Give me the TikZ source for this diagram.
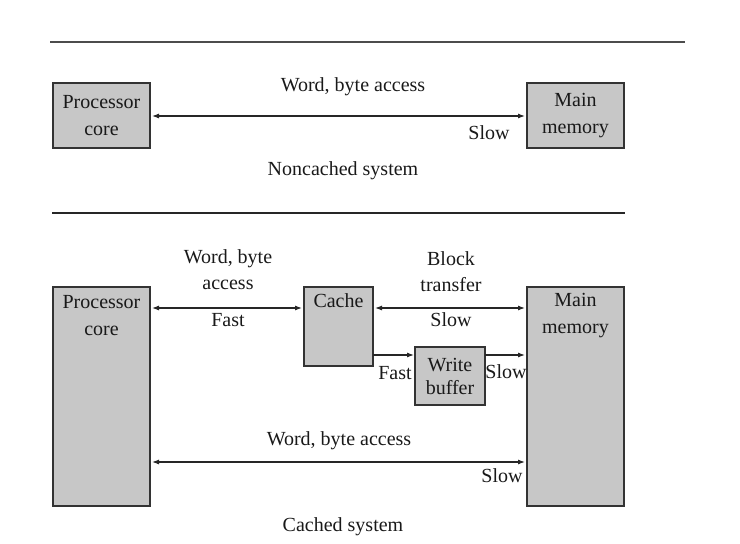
\documentclass[tikz,border=0pt]{standalone}
\usepackage{fontspec}
\setmainfont{Liberation Serif}
\usetikzlibrary{arrows.meta}
\begin{document}
\begin{tikzpicture}[x=1pt,y=-1pt,
  box/.style={draw=black!80,line width=1.3pt,fill=black!22},
  lbl/.style={inner sep=0pt,font=\fontsize{20}{22}\selectfont,text=black!90},
  conn/.style={line width=1.1pt,draw=black!85,{Latex[length=7pt,width=5pt]}-{Latex[length=7pt,width=5pt]}},
  oneway/.style={line width=1.1pt,draw=black!85,-{Latex[length=7pt,width=5pt]}}]
\useasboundingbox (0,0) rectangle (740,544);
% separator lines
\draw[line width=1.6pt,black!70] (50,42) -- (685,42);
\draw[line width=2.8pt,black!85] (52,213) -- (625,213);
% noncached system
\draw[box] (53,83) rectangle (150,148);
\draw[box] (527,83) rectangle (624,148);
\node[lbl,align=center] (p1) at (101.5,115.5) {Processor\\[5pt]core};
\node[lbl,align=center] (m1) at (575.5,115.5) {Main\\[5pt]memory};
\coordinate (p1e) at (152,116);
\coordinate (m1w) at (525,116);
\draw[conn] (p1e) -- (m1w);
\node[lbl] (t1) at (353,87) {Word, byte access};
\node[lbl] (t2) at (489,133) {Slow};
\node[lbl] (t3) at (343,171) {Noncached system};
% cached system
\draw[box] (53,287) rectangle (150,506);
\draw[box] (527,287) rectangle (624,506);
\draw[box] (304,287) rectangle (373,366);
\draw[box] (415,347) rectangle (485,405);
\node[lbl,align=center] (p2) at (101.5,316) {Processor\\[5pt]core};
\node[lbl,align=center] (m2) at (575.5,316) {Main\\[5pt]memory};
\node[lbl] (c) at (338.5,301) {Cache};
\node[lbl,align=center] (wb) at (450,376) {Write\\[1pt]buffer};
\coordinate (p2a) at (152,308);
\coordinate (ca) at (302,308);
\coordinate (cb) at (375,308);
\coordinate (m2a) at (525,308);
\coordinate (cc) at (373,355);
\coordinate (wbw) at (414,355);
\coordinate (wbe) at (485,355);
\coordinate (m2b) at (525,355);
\coordinate (p2b) at (152,462);
\coordinate (m2c) at (525,462);
\draw[conn] (p2a) -- (ca);
\draw[conn] (cb) -- (m2a);
\draw[oneway] (cc) -- (wbw);
\draw[oneway] (wbe) -- (m2b);
\draw[conn] (p2b) -- (m2c);
\node[lbl] (l1) at (228,259) {Word, byte};
\node[lbl] (l2) at (228,285) {access};
\node[lbl] (l3) at (228,320) {Fast};
\node[lbl] (l4) at (451,259) {Block};
\node[lbl] (l5) at (451,285) {transfer};
\node[lbl] (l6) at (451,320) {Slow};
\node[lbl] (l7) at (395,373) {Fast};
\node[lbl] (l8) at (506,372) {Slow};
\node[lbl] (l9) at (339,441) {Word, byte access};
\node[lbl] (l10) at (502,476) {Slow};
\node[lbl] (l11) at (343,527) {Cached system};
\end{tikzpicture}
\end{document}
